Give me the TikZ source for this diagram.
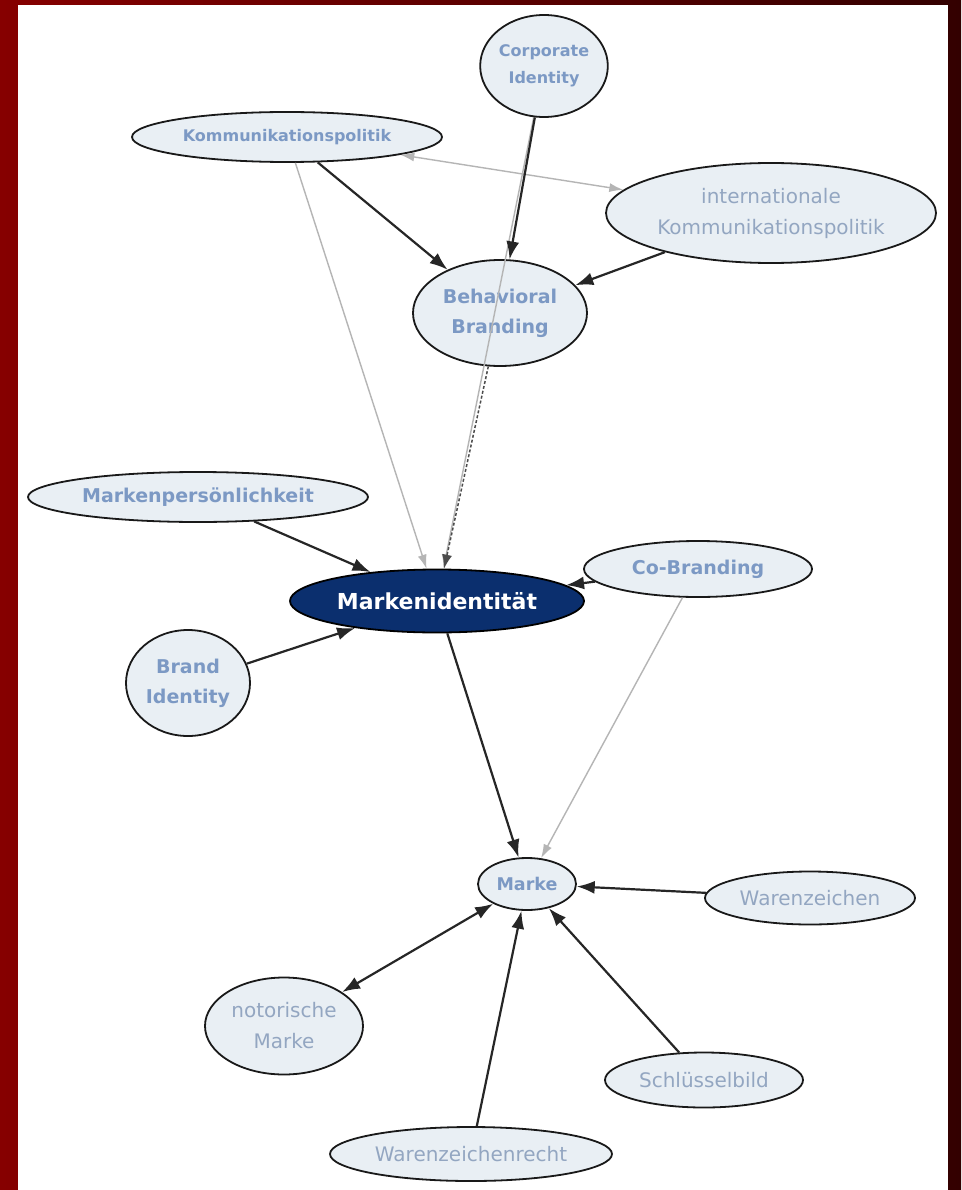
\documentclass[tikz,border=0pt]{standalone}
\usepackage{fontspec}
\setmainfont{DejaVu Sans}
\usetikzlibrary{shapes.geometric,arrows.meta}
\definecolor{bgL}{HTML}{860000}
\definecolor{bgR}{HTML}{330000}
\definecolor{nodefill}{HTML}{E9EFF4}
\definecolor{boldtxt}{HTML}{7C99C4}
\definecolor{regtxt}{HTML}{93A6C1}
\definecolor{navy}{HTML}{0B2F6E}
\definecolor{greyedge}{HTML}{B5B5B5}
\tikzset{
  ell/.style={ellipse, draw=black!90, line width=1.8pt, fill=nodefill, inner sep=0pt, align=center},
  bnode/.style={ell, text=boldtxt, font=\bfseries\fontsize{19}{30}\selectfont},
  rnode/.style={ell, text=regtxt, font=\fontsize{20}{31}\selectfont},
  blk/.style={draw=black!85, line width=2.2pt, -{Latex[length=18pt,width=13pt]}},
  blkboth/.style={draw=black!85, line width=2.2pt, {Latex[length=18pt,width=13pt]}-{Latex[length=18pt,width=13pt]}},
  gry/.style={draw=greyedge, line width=1.4pt, -{Latex[length=14pt,width=9pt]}},
  gryboth/.style={draw=greyedge, line width=1.4pt, {Latex[length=14pt,width=9pt]}-{Latex[length=14pt,width=9pt]}},
  dsh/.style={draw=black!70, line width=1.5pt, densely dashed, -{Latex[length=14pt,width=10pt]}}
}
\begin{document}
\begin{tikzpicture}[x=1pt,y=-1pt]
\shade[left color=bgL, right color=bgR] (0,0) rectangle (961,1190);
\fill[white] (18,5) rectangle (948,1190);
\useasboundingbox (0,0) rectangle (961,1190);

\node[bnode, minimum width=122pt, minimum height=102pt, font=\bfseries\fontsize{16}{27}\selectfont] (ci) at (544,66) {Corporate\\Identity};
\node[bnode, minimum width=310pt, minimum height=50pt, font=\bfseries\fontsize{16}{20}\selectfont] (komm) at (287,137) {Kommunikationspolitik};
\node[rnode, minimum width=330pt, minimum height=100pt] (ikomm) at (771,213) {internationale\\Kommunikationspolitik};
\node[bnode, minimum width=174pt, minimum height=106pt] (bb) at (500,313) {Behavioral\\Branding};
\node[bnode, minimum width=340pt, minimum height=50pt] (mp) at (198,497) {Markenpersönlichkeit};
\node[ell, fill=navy, draw=black, minimum width=294pt, minimum height=63pt, text=white, font=\bfseries\fontsize{22}{26}\selectfont] (mi) at (437,601) {Markenidentität};
\node[bnode, minimum width=228pt, minimum height=56pt] (cob) at (698,569) {Co-Branding};
\node[bnode, minimum width=124pt, minimum height=106pt] (bi) at (188,683) {Brand\\Identity};
\node[bnode, minimum width=98pt, minimum height=52pt, font=\bfseries\fontsize{17.5}{22}\selectfont] (marke) at (527,884) {Marke};
\node[rnode, minimum width=210pt, minimum height=53pt] (wz) at (810,898) {Warenzeichen};
\node[rnode, minimum width=158pt, minimum height=97pt] (nm) at (284,1026) {notorische\\Marke};
\node[rnode, minimum width=198pt, minimum height=55pt] (sb) at (704,1080) {Schlüsselbild};
\node[rnode, minimum width=282pt, minimum height=54pt] (wzr) at (471,1154) {Warenzeichenrecht};

% grey edges
\draw[gry] (ci) -- (mi);
\draw[gry] (komm) -- (mi);
\draw[gryboth] (komm) -- (ikomm);
\draw[gry] (cob) -- (marke);
% black edges
\draw[blk] (ci) -- (bb);
\draw[blk] (komm) -- (bb);
\draw[blk] (ikomm) -- (bb);
\draw[dsh] (bb) -- (mi);
\draw[blk] (mp) -- (mi);
\draw[blk] (cob) -- (mi);
\draw[blk] (bi) -- (mi);
\draw[blk] (mi) -- (marke);
\draw[blk] (wz) -- (marke);
\draw[blkboth] (nm) -- (marke);
\draw[blk] (wzr) -- (marke);
\draw[blk] (sb) -- (marke);
\end{tikzpicture}
\end{document}
